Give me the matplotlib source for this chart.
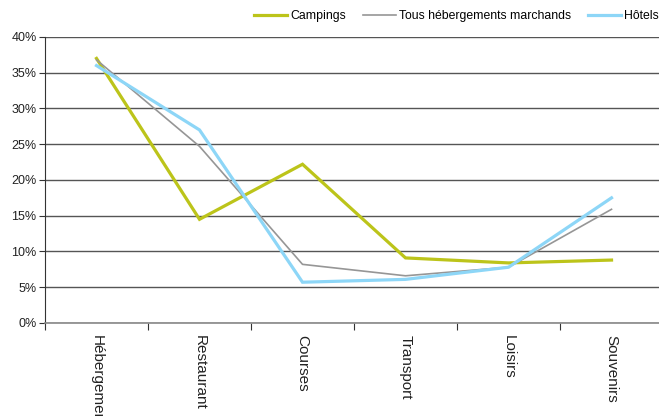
import matplotlib
matplotlib.use('Agg')
import matplotlib.pyplot as plt
from matplotlib.ticker import FixedLocator, FuncFormatter

plt.rcParams['font.family'] = ['Liberation Sans', 'DejaVu Sans']

categories = ['Hébergement', 'Restaurant', 'Courses', 'Transport', 'Loisirs', 'Souvenirs']
campings = [37.0, 14.5, 22.2, 9.1, 8.4, 8.8]
tous = [36.8, 24.7, 8.2, 6.6, 7.8, 15.9]
hotels = [36.0, 27.0, 5.7, 6.1, 7.8, 17.5]

fig = plt.figure(figsize=(6.59, 4.16), dpi=100)
ax = fig.add_axes([0.0683, 0.2236, 0.9378, 0.6875])

x = list(range(len(categories)))
ax.plot(x, campings, color='#bcc41a', lw=2.3, label='Campings', solid_joinstyle='miter')
ax.plot(x, tous, color='#969696', lw=1.2, label='Tous hébergements marchands')
ax.plot(x, hotels, color='#8dd6f7', lw=2.3, label='Hôtels', solid_joinstyle='miter')

ax.set_xlim(-0.5, len(categories) - 0.5)
ax.set_ylim(0, 40)
ax.set_yticks(range(0, 41, 5))
ax.yaxis.set_major_formatter(FuncFormatter(lambda v, p: '%d%%' % v))
ax.grid(axis='y', color='#555555', lw=1.0)
ax.set_axisbelow(True)

ax.set_xticks(x)
ax.set_xticklabels(categories, rotation=270, va='top', ha='center', fontsize=11, color='#222222')
ax.xaxis.set_minor_locator(FixedLocator([i - 0.5 for i in range(len(categories) + 1)]))
ax.tick_params(axis='x', which='major', length=0, pad=8.5)
ax.tick_params(axis='x', which='minor', length=5, width=0.8, color='#333333', direction='out')
ax.tick_params(axis='y', length=4, width=0.8, color='#333333', labelsize=9, labelcolor='#222222', pad=2)

for s in ['top', 'right']:
    ax.spines[s].set_visible(False)
ax.spines['left'].set_color('#333333')
ax.spines['left'].set_linewidth(0.8)
ax.spines['bottom'].set_color('#888888')
ax.spines['bottom'].set_linewidth(1.2)

fig.legend(loc='center right', bbox_to_anchor=(1.0, 0.962), ncol=3, frameon=False,
           fontsize=8.8, handlelength=2.7, handletextpad=0.25, columnspacing=1.4,
           borderaxespad=0.0, borderpad=0.0)

fig.savefig('out.png', dpi=100)
